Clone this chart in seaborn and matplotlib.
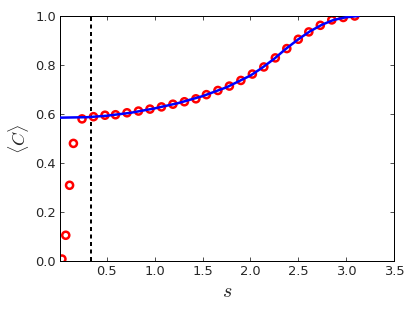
import numpy as np
import pandas as pd
import matplotlib
matplotlib.use("Agg")
import matplotlib.pyplot as plt
import seaborn as sns

# simulated points (red circles)
s_pts = [0.03, 0.07, 0.11, 0.15, 0.24, 0.36, 0.48, 0.59, 0.71, 0.83, 0.95,
         1.07, 1.19, 1.31, 1.43, 1.54, 1.66, 1.78, 1.90, 2.02, 2.14, 2.26,
         2.38, 2.50, 2.61, 2.73, 2.85, 2.97, 3.09]
c_pts = [0.008, 0.105, 0.309, 0.48, 0.58, 0.589, 0.595, 0.597, 0.605, 0.612,
         0.62, 0.629, 0.64, 0.65, 0.662, 0.679, 0.696, 0.714, 0.737, 0.763,
         0.792, 0.829, 0.867, 0.905, 0.935, 0.962, 0.984, 0.994, 1.0]

# theory curve (blue line)
s_line = [0.01, 0.15, 0.3, 0.5, 0.75, 1.0, 1.25, 1.5, 1.75, 2.0, 2.12, 2.25,
          2.37, 2.5, 2.62, 2.75, 2.87, 3.0, 3.13]
c_line = [0.585, 0.586, 0.587, 0.593, 0.605, 0.623, 0.645, 0.673, 0.709,
          0.757, 0.788, 0.826, 0.866, 0.905, 0.937, 0.965, 0.984, 0.995, 1.0]

s_cut = 0.33

sns.set_style("ticks", {"xtick.direction": "in", "ytick.direction": "in",
                        "axes.edgecolor": "black"})
plt.rcParams["font.family"] = ["DejaVu Sans"]
plt.rcParams["mathtext.fontset"] = "cm"

fig = plt.figure(figsize=(415 / 72, 312 / 72), dpi=72)
ax = fig.add_axes([0.1446, 0.1635, 0.9494 - 0.1446, 0.9487 - 0.1635])

pts = pd.DataFrame({"s": s_pts, "C": c_pts})
curve = pd.DataFrame({"s": s_line, "C": c_line})

sns.lineplot(data=curve, x="s", y="C", color="blue", linewidth=2.5, ax=ax, zorder=3)
sns.scatterplot(data=pts, x="s", y="C", marker="o", s=50, facecolor="none",
                edgecolor="red", linewidth=2.5, ax=ax, zorder=2)
ax.axvline(s_cut, color="black", linestyle=(0, (2, 1.75)), linewidth=2, zorder=1)

ax.set_xlim(0.01, 3.5)
ax.set_ylim(0, 1.0)
ax.set_xticks([0.5, 1.0, 1.5, 2.0, 2.5, 3.0, 3.5])
ax.set_yticks([0.0, 0.2, 0.4, 0.6, 0.8, 1.0])
ax.tick_params(direction="in", length=4, width=0.8, labelsize=13, pad=4,
               top=True, right=True)
for sp in ax.spines.values():
    sp.set_linewidth(1)

ax.set_xlabel(r"$s$", fontsize=20)
ax.set_ylabel(r"$\langle C \rangle$", fontsize=18)

fig.savefig("out.png", dpi=72)
